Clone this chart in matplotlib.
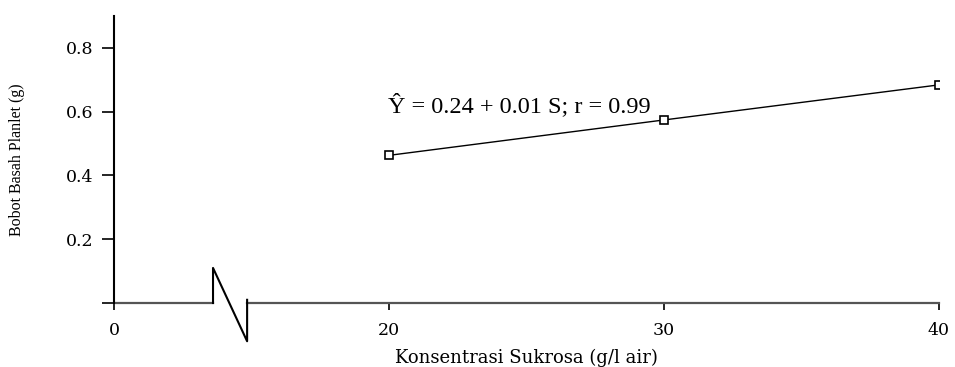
import matplotlib.pyplot as plt

# data
sukrosa = [20, 30, 40]
bobot = [0.463, 0.574, 0.684]
xtick_vals = [0, 20, 30, 40]
xtick_labels = ["0", "20", "30", "40"]
ytick_vals = [0.0, 0.2, 0.4, 0.6, 0.8]
ytick_labels = ["", "0.2", "0.4", "0.6", "0.8"]
equation = "Ŷ = 0.24 + 0.01 S; r = 0.99"


def to_axis(x):
    # broken axis: 0 is drawn where 10 would sit
    return 10 if x == 0 else x


fig = plt.figure(figsize=(9.55, 3.67), dpi=100)
ax = fig.add_axes([0.1194, 0.1744, 0.8638, 0.782])

ax.plot([to_axis(v) for v in sukrosa], bobot, color="black", linewidth=1,
        marker="s", markersize=6, markerfacecolor="white",
        markeredgecolor="black", markeredgewidth=1.2)

ax.text(19.95, 0.6, equation, family="Liberation Serif", fontsize=17.5,
        ha="left", va="baseline")

ax.set_xlim(10, 40)
ax.set_ylim(0, 0.9)
ax.set_xticks([to_axis(v) for v in xtick_vals])
ax.set_xticklabels(xtick_labels)
ax.set_yticks(ytick_vals)
ax.set_yticklabels(ytick_labels)

for lab in ax.get_xticklabels() + ax.get_yticklabels():
    lab.set_family("DejaVu Serif")
    lab.set_fontsize(12.5)

ax.tick_params(axis="y", direction="out", length=9, width=1.2, pad=6)
ax.tick_params(axis="x", direction="out", length=5, width=1.2, pad=9)

ax.spines["top"].set_visible(False)
ax.spines["right"].set_visible(False)
ax.spines["bottom"].set_visible(False)
ax.spines["left"].set_linewidth(1.5)

# x axis with break symbol
axis_col = "#555555"
ax.plot([10, 13.6], [0, 0], color=axis_col, linewidth=1.6, clip_on=False)
ax.plot([14.84, 40], [0, 0], color=axis_col, linewidth=1.6, clip_on=False)
ax.plot([13.6, 13.6, 14.84, 14.84], [0, 0.11, -0.12, 0.01], color="black",
        linewidth=1.5, clip_on=False)

ax.set_xlabel("Konsentrasi Sukrosa (g/l air)", family="DejaVu Serif",
              fontsize=13, labelpad=7)
ax.set_ylabel("Bobot Basah Planlet (g)", family="Liberation Serif",
              fontsize=11.5, labelpad=29)

plt.savefig("out.png", dpi=100)
plt.close(fig)
